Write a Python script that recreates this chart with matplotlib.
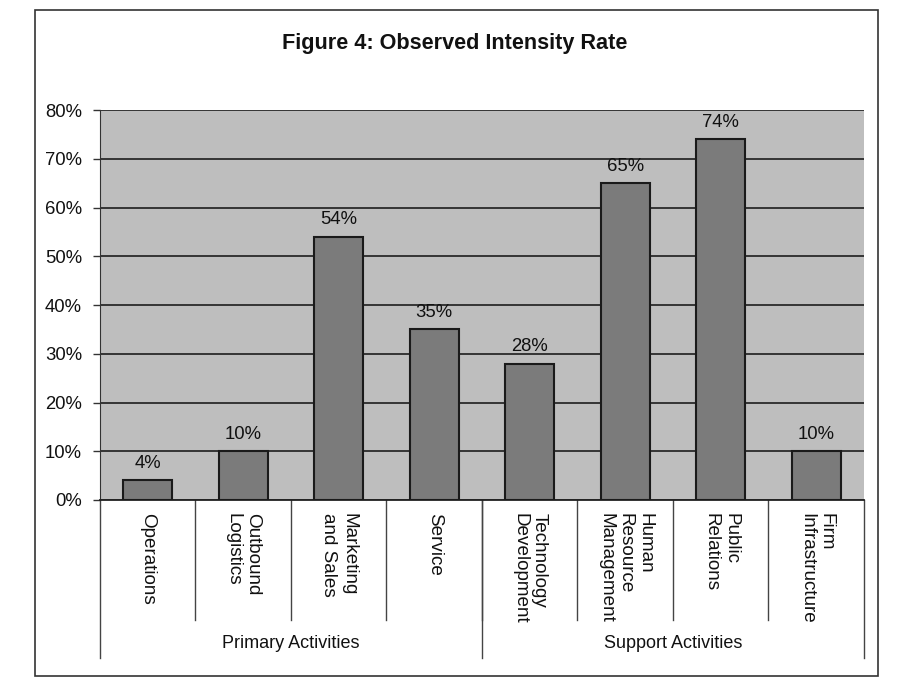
import numpy as np
import matplotlib.pyplot as plt
from matplotlib.patches import Rectangle
from matplotlib.ticker import PercentFormatter

plt.rcParams['font.family'] = ['Liberation Sans', 'DejaVu Sans']

# dados
categorias = ['Operations', 'Outbound\nLogistics', 'Marketing\nand Sales', 'Service',
              'Technology\nDevelopment', 'Human\nResource\nManagement', 'Public\nRelations',
              'Firm\nInfrastructure']
valores = [0.04, 0.10, 0.54, 0.35, 0.28, 0.65, 0.74, 0.10]
rotulos = ['4%', '10%', '54%', '35%', '28%', '65%', '74%', '10%']
grupos = ['Primary Activities', 'Support Activities']
tamanho_grupo = [4, 4]

fig = plt.figure(figsize=(9.13, 6.99), dpi=100)
ax = fig.add_axes([0.1095, 0.2847, 0.8368, 0.5579])

# moldura externa
fig.patches.append(Rectangle((0.0383, 0.0329), 0.9234, 0.9528, transform=fig.transFigure,
                             fill=False, edgecolor='#333333', linewidth=1.2))

x = np.arange(len(categorias))
ax.set_facecolor('#bebebe')
ax.bar(x, valores, width=0.51, color='#7b7b7b', edgecolor='#1a1a1a', linewidth=1.5, zorder=3)

for xi, v, r in zip(x, valores, rotulos):
    ax.annotate(r, (xi, v), xytext=(0, 6), textcoords='offset points',
                ha='center', va='bottom', fontsize=13.3, color='#111111')

ax.set_xlim(-0.5, len(categorias) - 0.5)
ax.set_ylim(0, 0.8)
ax.set_yticks(np.arange(0, 0.81, 0.1))
ax.yaxis.set_major_formatter(PercentFormatter(1.0, decimals=0))
ax.tick_params(axis='y', labelsize=13.3, length=5, width=1, color='#333333', pad=8,
               labelcolor='#111111')
ax.set_xticks([])
ax.grid(axis='y', color='#2a2a2a', linewidth=1.3, zorder=1)
ax.spines['top'].set_visible(False)
ax.spines['right'].set_visible(False)
ax.spines['left'].set_color('#333333')
ax.spines['bottom'].set_color('#222222')
ax.spines['bottom'].set_linewidth(1.3)

trans = ax.get_xaxis_transform()
# rótulos das categorias (verticais)
for xi, c in zip(x, categorias):
    ax.text(xi, -0.033, c, transform=trans, rotation=270, ha='center', va='top',
            multialignment='left', fontsize=13.6, color='#111111')

# linhas separadoras
for i in range(1, len(categorias)):
    ax.plot([i - 0.5, i - 0.5], [0, -0.3077], transform=trans, color='#444444',
            linewidth=1, clip_on=False)
inicio = -0.5
for g, n in zip(grupos, tamanho_grupo):
    ax.plot([inicio, inicio], [0, -0.405], transform=trans, color='#444444',
            linewidth=1, clip_on=False)
    ax.text(inicio + n / 2, -0.367, g, transform=trans, ha='center', va='center',
            fontsize=13, color='#111111')
    inicio = inicio + n
ax.plot([inicio, inicio], [0, -0.405], transform=trans, color='#444444',
        linewidth=1, clip_on=False)

fig.text(0.4985, 0.938, 'Figure 4: Observed Intensity Rate', ha='center', va='center',
         fontsize=15.6, fontweight='bold', color='#111111')

fig.savefig('out.png', dpi=100, facecolor='white')
